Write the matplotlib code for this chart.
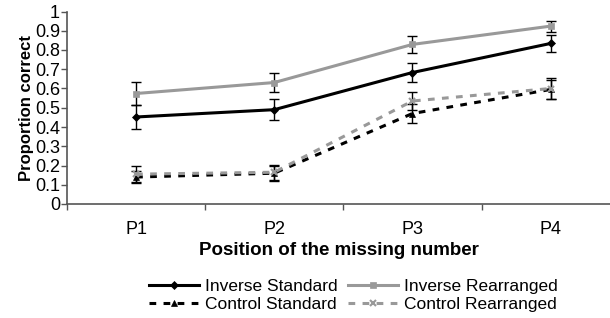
import numpy as np
import matplotlib
matplotlib.use("Agg")
import matplotlib.pyplot as plt

plt.rcParams["font.family"] = ["Liberation Sans", "DejaVu Sans"]

# =========================
# Data
# =========================
positions = ["P1", "P2", "P3", "P4"]

inverse_standard = [0.452, 0.49, 0.683, 0.834]
inverse_standard_err = [0.06, 0.056, 0.05, 0.044]

inverse_rearranged = [0.574, 0.631, 0.829, 0.924]
inverse_rearranged_err = [0.062, 0.05, 0.045, 0.028]

control_standard = [0.14, 0.16, 0.47, 0.595]
control_standard_err = [0.03, 0.04, 0.05, 0.05]

control_rearranged = [0.155, 0.165, 0.535, 0.6]
control_rearranged_err = [0.04, 0.04, 0.048, 0.055]

dash = (0, (2.2, 2.4))
series = [
    ("Inverse Standard", inverse_standard, inverse_standard_err, "black", "-", "D"),
    ("Inverse Rearranged", inverse_rearranged, inverse_rearranged_err, "#999999", "-", "s"),
    ("Control Standard", control_standard, control_standard_err, "black", dash, "^"),
    ("Control Rearranged", control_rearranged, control_rearranged_err, "#999999", dash, "x"),
]

# =========================
# Figure
# =========================
fig = plt.figure(figsize=(6.10, 3.18), dpi=100)
ax = fig.add_axes([67 / 610, 1 - 204 / 318, 1 - 67 / 610, (204 - 11.5) / 318])

x = np.arange(len(positions))
handles = {}
for label, vals, errs, color, ls, marker in series:
    ax.errorbar(x, vals, yerr=errs, fmt="none", ecolor="black",
                elinewidth=1.0, capsize=3.5, capthick=1.0, zorder=2)
    line, = ax.plot(x, vals, color=color, linestyle=ls, linewidth=2.2,
                    marker=marker, markersize=4.5 if marker != "x" else 5,
                    markeredgewidth=1.5 if marker == "x" else 0.5,
                    label=label, zorder=3)
    handles[label] = line

ax.set_xlim(-0.5, 3.43)
ax.set_ylim(0, 1)
ax.set_yticks(np.arange(0, 1.01, 0.1))
ax.set_yticklabels(["0", "0.1", "0.2", "0.3", "0.4", "0.5", "0.6", "0.7", "0.8", "0.9", "1"])
ax.set_xticks(x)
ax.set_xticklabels(positions)
ax.set_xticks([-0.5, 0.5, 1.5, 2.5], minor=True)

ax.tick_params(axis="y", direction="out", length=4, width=1, color="#555555",
               labelsize=13, pad=1)
ax.tick_params(axis="x", which="major", length=0, labelsize=13, pad=12)
ax.tick_params(axis="x", which="minor", direction="out", length=4, width=1,
               color="#555555")

for side in ["top", "right"]:
    ax.spines[side].set_visible(False)
for side in ["left", "bottom"]:
    ax.spines[side].set_color("#555555")
    ax.spines[side].set_linewidth(1.2)

ax.set_xlabel("Position of the missing number", fontsize=13.5, fontweight="bold",
              labelpad=3)
ax.set_ylabel("Proportion correct", fontsize=12, fontweight="bold", labelpad=1)

# legend rows: Inverse pair on top, Control pair below
order = ["Inverse Standard", "Control Standard", "Inverse Rearranged", "Control Rearranged"]
fig.legend([handles[k] for k in order], order, loc="center left",
           bbox_to_anchor=(149 / 610, 1 - 295.5 / 318), ncol=2,
           frameon=False, fontsize=12.5, handlelength=2.9, handletextpad=0.35,
           columnspacing=0.55, labelspacing=0.2, borderpad=0, borderaxespad=0)

fig.savefig("out.png", dpi=100)
